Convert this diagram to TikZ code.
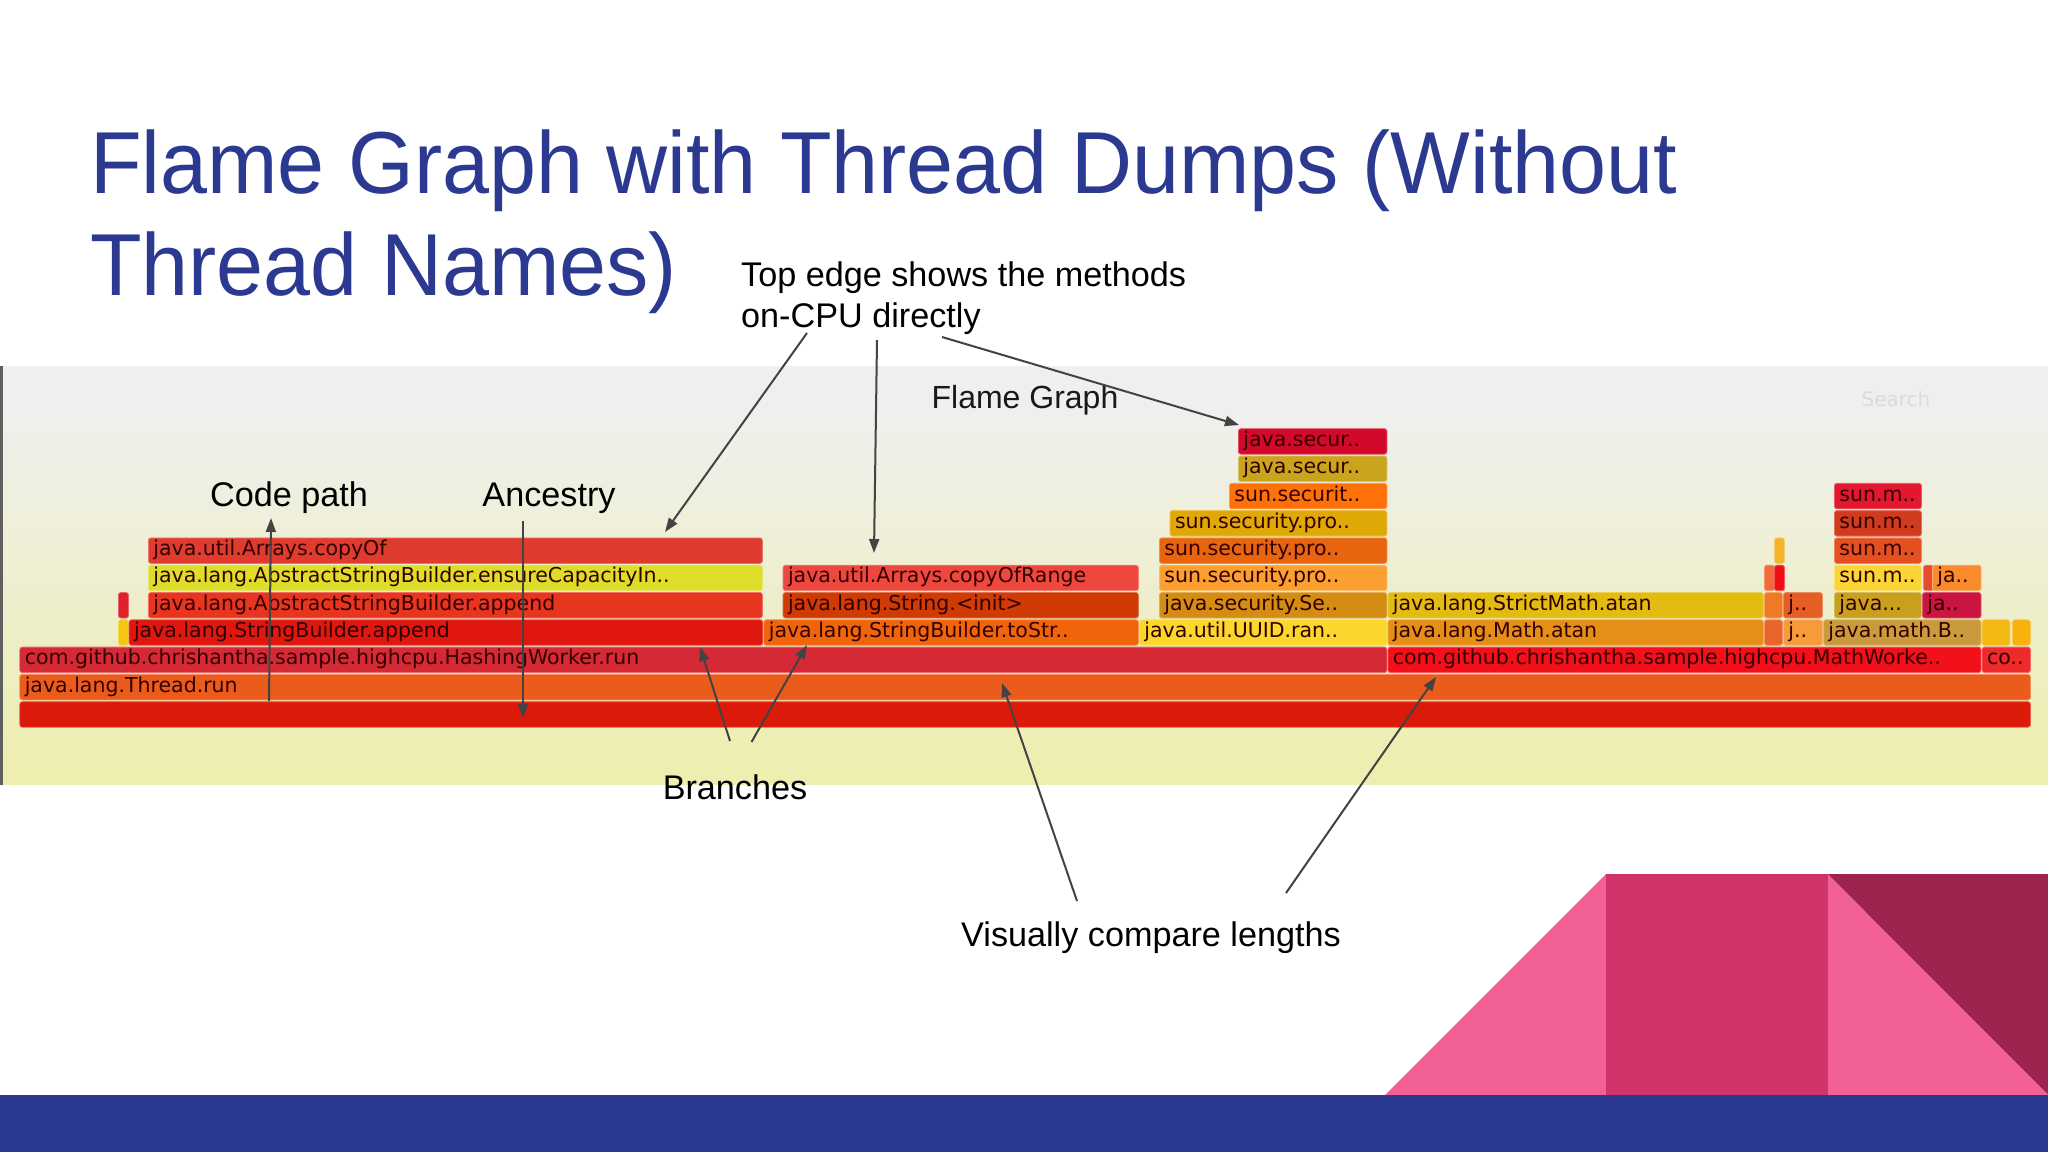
\documentclass[tikz,border=0pt]{standalone}
\usepackage{fontspec}
\setmainfont{Liberation Sans}
\newfontfamily\flamefont{DejaVu Sans}
\newfontfamily\titlefont[FakeStretch=0.96]{Liberation Sans}
\usetikzlibrary{arrows.meta}

\tikzset{
  flamebar/.style={draw=barfill!70!white,line width=0.8pt,fill=barfill,rounded corners=2.5pt,anchor=north west,
    minimum height=25.5pt,inner xsep=5pt,inner ysep=0pt,align=left,text=black!80!red,
    text height=15pt,text depth=5pt,font=\flamefont\fontsize{20.5}{20.5}\selectfont},
  callout/.style={font=\fontsize{34.2}{41}\selectfont,text=black,inner sep=0pt,align=left},
  titleline/.style={anchor=base west,inner sep=0pt,text=slateblue,font=\titlefont\fontsize{88}{88}\selectfont},
  pointer/.style={-{Triangle[length=14pt,width=10pt]},arrowgray,line width=2pt},
}

\newcommand{\flamebox}[6]{%
  \definecolor{barfill}{HTML}{#5}%
  \pgfmathsetlengthmacro{\boxw}{(#3-#2-1)*1pt}%
  \pgfmathsetlengthmacro{\boxt}{max(#3-#2-11,0.1)*1pt}%
  \node[flamebar,minimum width=\boxw,text width=\boxt] (#1) at (#2,{701.3-27.3*#4}) {#6};
}

\begin{document}
\begin{tikzpicture}[x=1pt,y=-1pt]
   \definecolor{slateblue}{HTML}{2C3990}
   \definecolor{arrowgray}{HTML}{434343}
   \definecolor{panelgray}{HTML}{EFEFF0}
   \definecolor{panelyellow}{HTML}{EEEEB0}
   \definecolor{pinklight}{HTML}{F26195}
   \definecolor{pinkmid}{HTML}{D1346B}
   \definecolor{pinkdark}{HTML}{9C244F}
   \useasboundingbox (0,0) rectangle (2048,1152);
   \fill[white] (0,0) rectangle (2048,1152);

   % panel behind the graph
   \fill[panelgray] (0,366) rectangle (2048,400);
   \shade[top color=panelgray,bottom color=panelyellow] (0,400) rectangle (2048,764);
   \fill[panelyellow] (0,764) rectangle (2048,785);
   \fill[arrowgray!85] (0,366) rectangle (2.5,785);

   % corner shapes and footer
   \fill[pinkdark] (1827.6,874) -- (2048,874) -- (2048,1095) -- cycle;
   \fill[pinklight] (1385,1095) -- (1606,874) -- (1606,1095) -- cycle;
   \fill[pinklight] (1827.6,874) -- (2048,1095) -- (1827.6,1095) -- cycle;
   \fill[pinkmid] (1606,874) rectangle (1827.6,1095);
   \fill[slateblue] (0,1095) rectangle (2048,1152);

   \node[titleline] (titleone) at (90,193.5) {Flame Graph with Thread Dumps (Without};
   \node[titleline] (titletwo) at (90,295) {Thread Names)};

   \node[callout,text=black!90,font=\fontsize{32}{32}\selectfont] (graphtitle) at (1025,400) {Flame Graph};
   \node[inner sep=0pt,text=black!14,font=\flamefont\fontsize{20}{20}\selectfont] (searchbox) at (1896,399) {Search};

   % bars, bottom row first
   \flamebox{root}{19.4}{2031}{0}{DB1A0A}{}
   \flamebox{threadrun}{19.4}{2031}{1}{EB5C1C}{java.lang.Thread.run}
   \flamebox{hashworker}{19.4}{1387.5}{2}{D52A36}{com.github.chrishantha.sample.highcpu.HashingWorker.run}
   \flamebox{mathworker}{1387.5}{1981.6}{2}{F2101A}{com.github.chrishantha.sample.highcpu.MathWorke..}
   \flamebox{coend}{1981.6}{2031}{2}{EE2A2A}{co..}

   \flamebox{yellowtick}{118}{128.6}{3}{F5C50F}{}
   \flamebox{sbappend}{128.6}{763.4}{3}{DF170F}{java.lang.StringBuilder.append}
   \flamebox{sbtostr}{763.4}{1139}{3}{F0640A}{java.lang.StringBuilder.toStr..}
   \flamebox{uuidran}{1139}{1387.5}{3}{FBD72C}{java.util.UUID.ran..}
   \flamebox{mathatan}{1387.5}{1764}{3}{E58F17}{java.lang.Math.atan}
   \flamebox{orangeb}{1764}{1783}{3}{E8662A}{}
   \flamebox{jthree}{1783}{1823}{3}{F69A3A}{j..}
   \flamebox{mathb}{1823}{1981.6}{3}{C99B3C}{java.math.B..}
   \flamebox{tickb}{1981.6}{2010.6}{3}{F5B914}{}
   \flamebox{tickc}{2012}{2031}{3}{F7B20E}{}

   \flamebox{redtick}{118}{128.6}{4}{E0202A}{}
   \flamebox{asbappend}{148}{763}{4}{E8351F}{java.lang.AbstractStringBuilder.append}
   \flamebox{stringinit}{782.6}{1139}{4}{CF3A05}{java.lang.String.<init>}
   \flamebox{securityse}{1159}{1387.5}{4}{D48C12}{java.security.Se..}
   \flamebox{strictatan}{1387.5}{1764}{4}{E3BC12}{java.lang.StrictMath.atan}
   \flamebox{orangec}{1764}{1783}{4}{EE7A25}{}
   \flamebox{jfour}{1783}{1823}{4}{E55F25}{j..}
   \flamebox{javadots}{1834}{1922}{4}{C8A01E}{java...}
   \flamebox{jacrim}{1922}{1981.6}{4}{C9153F}{ja..}

   \flamebox{ensurecap}{148}{763}{5}{DDDD2A}{java.lang.AbstractStringBuilder.ensureCapacityIn..}
   \flamebox{copyrange}{782.6}{1139}{5}{EE473D}{java.util.Arrays.copyOfRange}
   \flamebox{proa}{1159}{1387.5}{5}{FBA030}{sun.security.pro..}
   \flamebox{oranged}{1764}{1774}{5}{F26A38}{}
   \flamebox{redd}{1774}{1783}{5}{EE1015}{}
   \flamebox{suna}{1834}{1922}{5}{FBD435}{sun.m..}
   \flamebox{rede}{1923}{1932}{5}{E84A30}{}
   \flamebox{jaorange}{1932}{1981.6}{5}{F98B2C}{ja..}

   \flamebox{copyof}{148}{763}{6}{DF3B2E}{java.util.Arrays.copyOf}
   \flamebox{prob}{1159}{1387.5}{6}{E8640F}{sun.security.pro..}
   \flamebox{ticke}{1774}{1783}{6}{F2B52C}{}
   \flamebox{sunb}{1834}{1922}{6}{E55020}{sun.m..}

   \flamebox{proc}{1169.6}{1387.5}{7}{E0A806}{sun.security.pro..}
   \flamebox{sunc}{1834}{1922}{7}{D03A1E}{sun.m..}

   \flamebox{securit}{1229}{1387.5}{8}{FE7008}{sun.securit..}
   \flamebox{sund}{1834}{1922}{8}{E3172E}{sun.m..}

   \flamebox{secura}{1238}{1387.5}{9}{C8A51C}{java.secur..}
   \flamebox{securb}{1238}{1387.5}{10}{D2092A}{java.secur..}

   % callouts
   \node[callout,anchor=base west] (topedge) at (741,327) {Top edge shows the methods\\on-CPU directly};
   \node[callout] (codepath) at (289,498) {Code path};
   \node[callout] (ancestry) at (549,498) {Ancestry};
   \node[callout] (branches) at (735,787) {Branches};
   \node[callout] (lengths) at (1151,938) {Visually compare lengths};

   % free ends of the pointers
   \coordinate (edgea) at (807,333);
   \coordinate (edgeb) at (877,340);
   \coordinate (edgec) at (942,337);
   \coordinate (tipa) at (665,532);
   \coordinate (tipb) at (874,553);
   \coordinate (tipc) at (1239,425);
   \coordinate (pathfoot) at (269,701);
   \coordinate (pathtip) at (271,518);
   \coordinate (ancestrytop) at (523,521);
   \coordinate (ancestrytip) at (523,718);
   \coordinate (brancha) at (730,741);
   \coordinate (branchb) at (751.5,742);
   \coordinate (branchtipa) at (700,647);
   \coordinate (branchtipb) at (807,645);
   \coordinate (lengtha) at (1077,901);
   \coordinate (lengthb) at (1286,893);
   \coordinate (lengthtipa) at (1002,683);
   \coordinate (lengthtipb) at (1436,677);

   \draw[pointer] (edgea) -- (tipa);
   \draw[pointer] (edgeb) -- (tipb);
   \draw[pointer] (edgec) -- (tipc);
   \draw[pointer] (pathfoot) -- (pathtip);
   \draw[pointer] (ancestrytop) -- (ancestrytip);
   \draw[pointer] (brancha) -- (branchtipa);
   \draw[pointer] (branchb) -- (branchtipb);
   \draw[pointer] (lengtha) -- (lengthtipa);
   \draw[pointer] (lengthb) -- (lengthtipb);
\end{tikzpicture}
\end{document}
